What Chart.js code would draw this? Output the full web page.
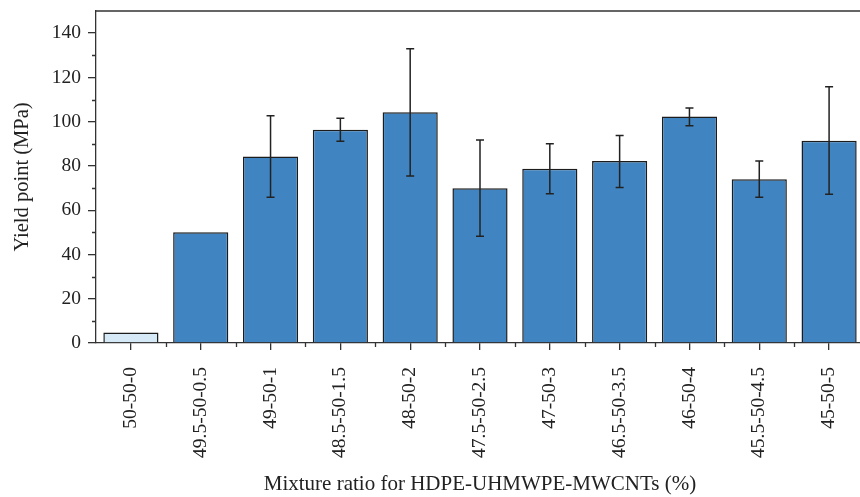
<!DOCTYPE html>
<html>
<head>
<meta charset="utf-8">
<script src="https://cdn.jsdelivr.net/npm/chart.js@4"></script>
<style>
  html, body { margin: 0; padding: 0; background: #fff; overflow: hidden; }
  #wrap { width: 864px; height: 497px; }
</style>
</head>
<body>
<div id="wrap"><canvas id="yieldChart"></canvas></div>
<script>
// yield point per mixture ratio
const RATIOS = ['50-50-0', '49.5-50-0.5', '49-50-1', '48.5-50-1.5', '48-50-2', '47.5-50-2.5',
    '47-50-3', '46.5-50-3.5', '46-50-4', '45.5-50-4.5', '45-50-5'];
const YIELD = [4.7, 50, 84.3, 96.4, 104.2, 69.9, 78.7, 82.2, 102.3, 74.0, 91.4];
const ERR_HI = [0, 0, 102.7, 101.5, 132.9, 91.7, 90.0, 93.8, 106.2, 82.2, 115.8];
const ERR_LO = [0, 0, 65.8, 91.2, 75.5, 48.2, 67.4, 70.2, 98.2, 65.8, 67.2];
const Y_TICKS = [0, 20, 40, 60, 80, 100, 120, 140];
const Y_MINOR = [10, 30, 50, 70, 90, 110, 130];

const INK = '#222';
const FONT = 'Liberation Serif';

// error bars, minor ticks and top frame line
const extras = {
    id: 'extras',
    afterDatasetsDraw(chart) {
        const { ctx, chartArea: a, scales: { x, y } } = chart;
        ctx.save();
        ctx.strokeStyle = INK;
        ctx.lineWidth = 1.5;
        const meta = chart.getDatasetMeta(0);
        YIELD.forEach((v, i) => {
            if (ERR_HI[i] === 0 && ERR_LO[i] === 0) return;
            const cx = meta.data[i].x;
            const yt = y.getPixelForValue(ERR_HI[i]);
            const yb = y.getPixelForValue(ERR_LO[i]);
            ctx.beginPath();
            ctx.moveTo(cx, yt); ctx.lineTo(cx, yb);
            ctx.moveTo(cx - 4, yt); ctx.lineTo(cx + 4, yt);
            ctx.moveTo(cx - 4, yb); ctx.lineTo(cx + 4, yb);
            ctx.stroke();
        });
        ctx.lineWidth = 1.3;
        ctx.strokeStyle = '#333';
        ctx.beginPath();
        // top frame
        ctx.moveTo(a.left, a.top); ctx.lineTo(a.right, a.top);
        // y minor ticks
        Y_MINOR.forEach(v => {
            const py = Math.round(y.getPixelForValue(v)) + 0.5;
            ctx.moveTo(a.left - 4, py); ctx.lineTo(a.left, py);
        });
        // x minor ticks at category boundaries
        const step = (a.right - a.left) / RATIOS.length;
        for (let k = 1; k < RATIOS.length; k++) {
            const px = Math.round(a.left + step * k) + 0.5;
            ctx.moveTo(px, a.bottom); ctx.lineTo(px, a.bottom + 4);
        }
        ctx.stroke();
        ctx.restore();
    }
};

new Chart(document.getElementById('yieldChart'), {
    type: 'bar',
    data: {
        labels: RATIOS,
        datasets: [{
            data: YIELD,
            backgroundColor: YIELD.map((_, i) => i === 0 ? '#d5e9f7' : '#4085c1'),
            borderColor: '#1c1c1c',
            borderWidth: 1.5,
            categoryPercentage: 1,
            barPercentage: 0.79,
        }]
    },
    options: {
        responsive: true,
        maintainAspectRatio: false,
        animation: false,
        layout: { padding: { top: 11, right: 0, left: 0, bottom: 0 } },
        plugins: { legend: { display: false }, tooltip: { enabled: false } },
        scales: {
            x: {
                offset: true,
                afterFit: s => { s.height = 154; s.paddingLeft = 0; s.paddingRight = 0; },
                grid: { drawOnChartArea: false, tickLength: 7, color: '#333', lineWidth: 1.3, offset: false },
                border: { color: '#333', width: 1.3 },
                ticks: { color: INK, font: { family: FONT, size: 19.5 }, minRotation: 90, maxRotation: 90, padding: 17, autoSkip: false },
                title: { display: true, text: 'Mixture ratio for HDPE-UHMWPE-MWCNTs (%)', color: INK, font: { family: FONT, size: 21 }, padding: { top: 0, bottom: 0 } }
            },
            y: {
                min: 0, max: 150,
                afterFit: s => { s.width = 96; s.paddingTop = 0; s.paddingBottom = 0; },
                afterBuildTicks: s => { s.ticks = Y_TICKS.map(v => ({ value: v })); },
                grid: { drawOnChartArea: false, tickLength: 8, color: '#333', lineWidth: 1.3 },
                border: { color: '#333', width: 1.3 },
                ticks: { color: INK, font: { family: FONT, size: 19.5 }, padding: 7 },
                title: { display: true, text: 'Yield point (MPa)', color: INK, font: { family: FONT, size: 20.5 }, padding: { top: 10, bottom: 0 } }
            }
        }
    },
    plugins: [extras]
});
</script>
</body>
</html>
